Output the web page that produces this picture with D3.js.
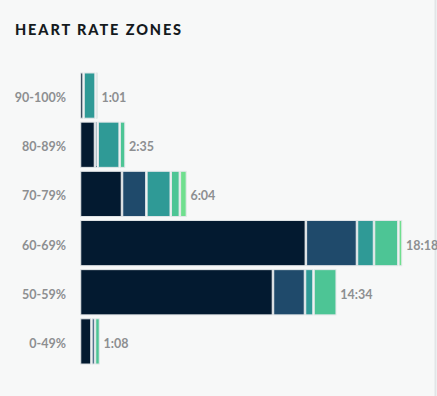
<!DOCTYPE html>
<html>
<head>
<meta charset="utf-8">
<script src="https://cdn.jsdelivr.net/npm/d3@7"></script>
<style>
  html, body { margin: 0; padding: 0; background: #f7f8f8; }
  svg { display: block; }
  .title { font-family: Lato, "Open Sans", sans-serif; font-weight: 900; font-size: 14.5px; letter-spacing: 1.9px; fill: #151a1e; }
  .zone-label, .time-label { font-family: Lato, "Open Sans", sans-serif; font-weight: 700; font-size: 12.5px; fill: #8d8f91; }
</style>
</head>
<body>
<svg id="canvas" width="437" height="396"></svg>
<script>
// Configuration
const width = 437;
const height = 396;

// Data: seconds spent in each sub-zone for every heart rate band
const zones = ['90-100%', '80-89%', '70-79%', '60-69%', '50-59%', '0-49%'];
const timeLabels = ['1:01', '2:35', '6:04', '18:18', '14:34', '1:08'];
const navy = [12, 51, 143, 769, 657, 39];
const blue = [0, 9, 83, 174, 109, 12];
const teal = [41, 75, 83, 58, 29, 0];
const green = [0, 20, 31, 83, 79, 17];
const lightGreen = [8, 0, 24, 14, 0, 0];

const seriesKeys = ['navy', 'blue', 'teal', 'green', 'lightGreen'];
const seriesColors = ['#031a30', '#1f4a6b', '#2f9a96', '#4dc595', '#6fdf8e'];

const rows = zones.map((z, i) => ({
    zone: z,
    label: timeLabels[i],
    navy: navy[i], blue: blue[i], teal: teal[i], green: green[i], lightGreen: lightGreen[i]
}));

const canvas = d3.select('#canvas');

const stacked = d3.stack().keys(seriesKeys)(rows);
const totals = rows.map(r => seriesKeys.reduce((s, k) => s + r[k], 0));

const x = d3.scaleLinear()
    .domain([0, d3.max(totals)])
    .range([80, 402.5]);

const y = d3.scaleBand()
    .domain(zones)
    .range([71, 366])
    .paddingInner(0.08)
    .paddingOuter(0.04);

const color = d3.scaleOrdinal().domain(seriesKeys).range(seriesColors);

// Right border of the card
canvas.append('line')
    .attr('x1', 435.5).attr('x2', 435.5)
    .attr('y1', 0).attr('y2', height)
    .attr('stroke', '#e2e5e7')
    .attr('stroke-width', 2);

// Title
canvas.append('text')
    .attr('class', 'title')
    .attr('x', 15)
    .attr('y', 35)
    .text('HEART RATE ZONES');

// Bars
const layer = canvas.selectAll('g.layer')
    .data(stacked)
    .enter()
    .append('g')
    .attr('class', 'layer')
    .attr('fill', d => color(d.key));

layer.selectAll('rect')
    .data(d => d.filter(s => s[1] - s[0] > 0))
    .enter()
    .append('rect')
    .attr('x', d => x(d[0]) + 0.75)
    .attr('y', d => y(d.data.zone))
    .attr('width', d => Math.max(0.8, x(d[1]) - x(d[0]) - 1.5))
    .attr('height', y.bandwidth())
    .attr('stroke', '#e3e7e9')
    .attr('stroke-width', 1);

// Zone labels
canvas.selectAll('text.zone-label')
    .data(rows)
    .enter()
    .append('text')
    .attr('class', 'zone-label')
    .attr('x', 66)
    .attr('y', d => y(d.zone) + y.bandwidth() / 2 + 6.5)
    .attr('text-anchor', 'end')
    .text(d => d.zone);

// Time labels
canvas.selectAll('text.time-label')
    .data(rows)
    .enter()
    .append('text')
    .attr('class', 'time-label')
    .attr('x', (d, i) => x(totals[i]) + 3.5)
    .attr('y', d => y(d.zone) + y.bandwidth() / 2 + 6.5)
    .text(d => d.label);
</script>
</body>
</html>
